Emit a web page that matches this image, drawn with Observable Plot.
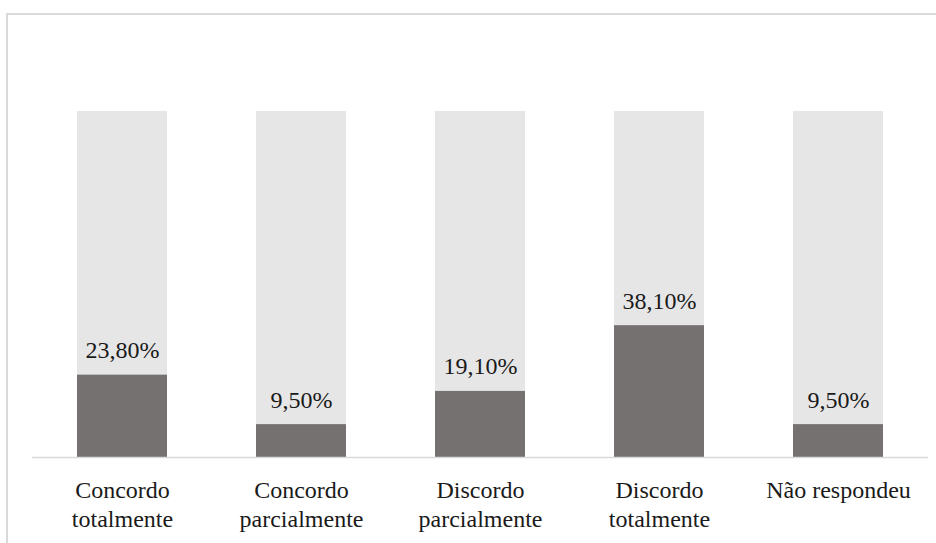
<!DOCTYPE html>
<html>
<head>
<meta charset="utf-8">
<style>
  html, body { margin: 0; padding: 0; background: #fff; }
  #wrap { position: relative; width: 936px; height: 543px; overflow: hidden; }
  #frame { position: absolute; left: 6px; top: 13px; width: 1000px; height: 600px;
           border-left: 2px solid #d9d9d9; border-top: 2px solid #d9d9d9; box-sizing: border-box; }
  #chart { position: absolute; left: 0; top: 0; }
  #fontwarm { position: absolute; left: -9999px; top: 0; font-family: "Liberation Serif"; font-size: 24px; }
</style>
</head>
<body>
<div id="fontwarm">Concordo 23,80% Não</div>
<script src="https://cdn.jsdelivr.net/npm/d3@7"></script>
<script src="https://cdn.jsdelivr.net/npm/@observablehq/plot@0.6"></script>
<div id="wrap"><div id="frame"></div><div id="chart"></div></div>
<script>
const categories = ["Concordo totalmente", "Concordo parcialmente", "Discordo parcialmente", "Discordo totalmente", "Não respondeu"];
const tickLabels = ["Concordo\ntotalmente", "Concordo\nparcialmente", "Discordo\nparcialmente", "Discordo\ntotalmente", "Não respondeu"];
const values = [23.8, 9.5, 19.1, 38.1, 9.5];
const fullScale = [100, 100, 100, 100, 100];

const rows = categories.map((c, i) => ({cat: c, value: values[i], full: fullScale[i], tick: tickLabels[i]}));
const fmt = v => v.toFixed(2).replace(".", ",") + "%";
const tickMap = new Map(rows.map(r => [r.cat, r.tick]));
const serif = "Liberation Serif";

function draw() {
  const chart = Plot.plot({
    width: 936,
    height: 543,
    marginLeft: 32,
    marginRight: 8,
    marginTop: 111,
    marginBottom: 86,
    style: {fontFamily: serif, background: "transparent"},
    x: {domain: categories, paddingInner: 0.5, paddingOuter: 0.25, label: null},
    y: {domain: [0, 100], axis: null},
    marks: [
      Plot.barY(rows, {x: "cat", y: "full", fill: "#e7e6e6"}),
      Plot.barY(rows, {x: "cat", y: "value", fill: "#767171"}),
      Plot.ruleY([0], {stroke: "#d9d9d9", strokeWidth: 1.5}),
      Plot.text(rows, {x: "cat", y: "value", text: d => fmt(d.value), lineAnchor: "bottom", dy: -17, fontSize: 24, fill: "#1a1a1a", fontFamily: serif}),
      Plot.axisX({tickSize: 0, tickPadding: 21, fontSize: 24, lineHeight: 1.17, tickFormat: d => tickMap.get(d), fill: "#1a1a1a", fontFamily: serif, label: null})
    ]
  });
  const host = document.getElementById("chart");
  host.replaceChildren(chart);
  chart.querySelectorAll("text").forEach(t => { getComputedStyle(t).fontFamily; });
}
draw();
if (document.fonts && document.fonts.load) {
  document.fonts.load("24px 'Liberation Serif'").then(draw).catch(() => {});
}
</script>
</body>
</html>
